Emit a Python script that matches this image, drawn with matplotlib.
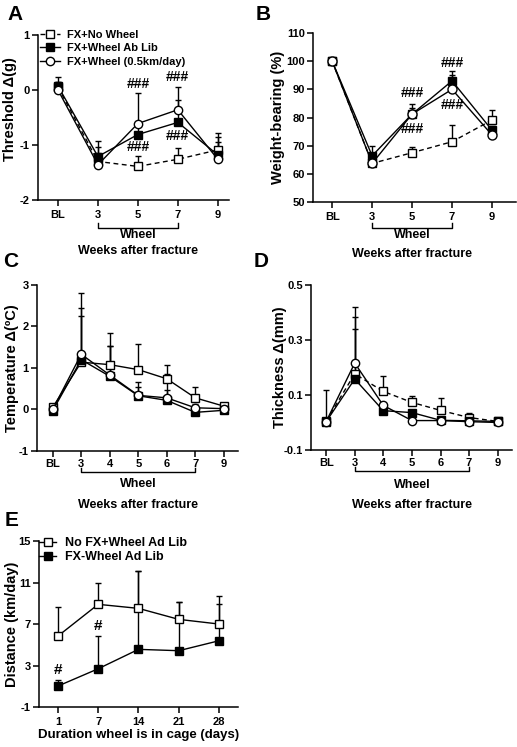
import numpy as np
import matplotlib
matplotlib.use("Agg")
import matplotlib.pyplot as plt

plt.rcParams['font.family'] = ['Liberation Sans', 'DejaVu Sans']
plt.rcParams['font.weight'] = 'bold'
plt.rcParams['axes.labelweight'] = 'bold'
plt.rcParams['axes.unicode_minus'] = False

# ---- data ----
# Panel A: threshold change
a_ticks = ['BL', '3', '5', '7', '9']
a_nowheel = [0.05, -1.30, -1.39, -1.26, -1.09]
a_nowheel_err = [0.10, 0.37, 0.19, 0.20, 0.30]
a_ablib = [0.07, -1.21, -0.81, -0.59, -1.18]
a_ablib_err = [0.17, 0.18, 0.20, 0.40, 0.32]
a_slow = [0.00, -1.36, -0.61, -0.36, -1.26]
a_slow_err = [0.15, 0.21, 0.55, 0.42, 0.32]

# Panel B: weight-bearing
b_ticks = ['BL', '3', '5', '7', '9']
b_nowheel = [100, 63.7, 67.5, 71.4, 79.1]
b_nowheel_err = [0, 1.0, 2.1, 5.9, 3.6]
b_ablib = [100, 66.4, 81.2, 93.0, 75.5]
b_ablib_err = [0, 3.6, 3.6, 3.5, 1.5]
b_slow = [100, 63.7, 81.2, 90.0, 73.8]
b_slow_err = [0, 1.0, 2.2, 5.1, 1.0]

# Panel C: temperature change
c_ticks = ['BL', '3', '4', '5', '6', '7', '9']
c_nowheel = [0.05, 1.14, 1.08, 0.96, 0.74, 0.28, 0.08]
c_nowheel_err = [0.05, 1.12, 0.76, 0.61, 0.32, 0.27, 0.03]
c_ablib = [-0.03, 1.20, 0.80, 0.33, 0.22, -0.07, -0.02]
c_ablib_err = [0.05, 1.25, 0.74, 0.21, 0.24, 0.10, 0.05]
c_slow = [0.00, 1.33, 0.83, 0.34, 0.28, 0.04, 0.02]
c_slow_err = [0.04, 1.48, 0.70, 0.32, 0.58, 0.08, 0.04]

# Panel D: thickness change
d_ticks = ['BL', '3', '4', '5', '6', '7', '9']
d_nowheel = [0.005, 0.177, 0.113, 0.073, 0.044, 0.018, 0.004]
d_nowheel_err = [0.114, 0.163, 0.057, 0.024, 0.045, 0.015, 0.004]
d_ablib = [0.003, 0.158, 0.043, 0.036, 0.008, 0.006, 0.004]
d_ablib_err = [0.0, 0.227, 0.010, 0.010, 0.005, 0.010, 0.003]
d_slow = [0.003, 0.216, 0.062, 0.007, 0.007, 0.003, 0.000]
d_slow_err = [0.0, 0.204, 0.010, 0.005, 0.005, 0.005, 0.003]

# Panel E: running distance
e_ticks = ['1', '7', '14', '21', '28']
e_nofx = [5.84, 8.90, 8.51, 7.45, 7.00]
e_nofx_err = [2.83, 2.02, 3.59, 1.64, 2.73]
e_fx = [1.02, 2.69, 4.56, 4.43, 5.39]
e_fx_err = [0.58, 3.18, 7.54, 4.66, 3.51]

legend_a = ['FX+No Wheel', 'FX+Wheel Ab Lib', 'FX+Wheel (0.5km/day)']
legend_e = ['No FX+Wheel Ad Lib', 'FX-Wheel Ad Lib']

DASH = (0, (3.5, 2.5))


def plot_group(ax, y, err, marker, face, ls, ms=5.5, label=None):
    x = np.arange(len(y))
    eb = ax.errorbar(x, y, yerr=[np.zeros(len(err)), err], fmt='none',
                     ecolor='black', elinewidth=1, capsize=2.5, capthick=1,
                     zorder=2)
    for art in list(eb[1]) + list(eb[2]):
        art.set_clip_on(False)
    ax.plot(x, y, linestyle=ls, color='black', lw=1, marker=marker,
            mfc=face, mec='black', ms=ms, mew=1, zorder=3, clip_on=False,
            label=label)


def style_axes(ax, ticks, ylim, yticks, xlim, pad=3):
    ax.set_xticks(np.arange(len(ticks)))
    ax.set_xticklabels(ticks)
    ax.set_xlim(*xlim)
    ax.set_ylim(*ylim)
    ax.set_yticks(yticks)
    ax.spines['top'].set_visible(False)
    ax.spines['right'].set_visible(False)
    ax.spines['left'].set_linewidth(1.1)
    ax.spines['bottom'].set_linewidth(1.1)
    ax.tick_params(direction='out', length=4, width=1.1, labelsize=8)
    ax.tick_params(axis='x', pad=pad)
    ax.tick_params(axis='y', pad=2)
    for lab in ax.get_xticklabels() + ax.get_yticklabels():
        lab.set_fontweight('bold')


def wheel_bracket(ax, x0, x1, ybr, ytick, ywheel, yweeks):
    tr = ax.get_xaxis_transform()
    ax.plot([x0, x0, x1, x1], [ytick, ybr, ybr, ytick], transform=tr,
            color='black', lw=1, clip_on=False)
    ax.text((x0 + x1) / 2, ywheel, 'Wheel', transform=tr, ha='center',
            va='center', fontsize=9, fontweight='bold')
    ax.text((x0 + x1) / 2, yweeks, 'Weeks after fracture', transform=tr,
            ha='center', va='center', fontsize=9, fontweight='bold')


fig = plt.figure(figsize=(5.17, 7.47), dpi=100)

# ---- A ----
axA = fig.add_axes([0.0735, 0.7323, 0.3694, 0.2209])
plot_group(axA, a_nowheel, a_nowheel_err, 's', 'white', DASH, label=legend_a[0])
plot_group(axA, a_ablib, a_ablib_err, 's', 'black', '-', label=legend_a[1])
plot_group(axA, a_slow, a_slow_err, 'o', 'white', '-', ms=6, label=legend_a[2])
style_axes(axA, a_ticks, (-2, 1), [-2, -1, 0, 1], (-0.5, 4.28))
axA.set_ylabel('Threshold Δ(g)', fontsize=10.5)
axA.yaxis.set_label_coords(-0.11, 0.55)
for xx, yy in [(2, 0.10), (2, -1.03), (3, 0.24), (3, -0.84)]:
    axA.text(xx, yy, '###', ha='center', va='center', fontsize=10)
axA.legend(loc='upper left', bbox_to_anchor=(0.01, 1.03), frameon=False,
           fontsize=8, handlelength=1.8, handletextpad=0.6,
           labelspacing=0.3, borderpad=0, borderaxespad=0)
wheel_bracket(axA, 1, 3, -0.17, -0.14, -0.212, -0.31)

# ---- B ----
axB = fig.add_axes([0.6054, 0.7296, 0.3926, 0.2262])
plot_group(axB, b_nowheel, b_nowheel_err, 's', 'white', DASH)
plot_group(axB, b_ablib, b_ablib_err, 's', 'black', '-')
plot_group(axB, b_slow, b_slow_err, 'o', 'white', '-', ms=6.5)
style_axes(axB, b_ticks, (50, 110), range(50, 111, 10), (-0.48, 4.6))
axB.set_ylabel('Weight-bearing (%)', fontsize=10.5)
axB.yaxis.set_label_coords(-0.14, 0.5)
for xx, yy in [(2, 88.6), (2, 75.8), (3, 99.5), (3, 84.3)]:
    axB.text(xx, yy, '###', ha='center', va='center', fontsize=10)
wheel_bracket(axB, 1, 3, -0.156, -0.126, -0.195, -0.308)

# ---- C ----
axC = fig.add_axes([0.0716, 0.3963, 0.3888, 0.2222])
plot_group(axC, c_nowheel, c_nowheel_err, 's', 'white', '-')
plot_group(axC, c_ablib, c_ablib_err, 's', 'black', '-')
plot_group(axC, c_slow, c_slow_err, 'o', 'white', '-', ms=6)
style_axes(axC, c_ticks, (-1, 3), [-1, 0, 1, 2, 3], (-0.55, 6.5), pad=1.5)
axC.set_ylabel('Temperature Δ(ºC)', fontsize=10.5)
axC.yaxis.set_label_coords(-0.09, 0.5)
wheel_bracket(axC, 1, 5, -0.125, -0.1, -0.2, -0.325)

# ---- D ----
axD = fig.add_axes([0.6015, 0.3976, 0.3888, 0.2209])
plot_group(axD, d_nowheel, d_nowheel_err, 's', 'white', DASH)
plot_group(axD, d_ablib, d_ablib_err, 's', 'black', '-')
plot_group(axD, d_slow, d_slow_err, 'o', 'white', '-', ms=6)
style_axes(axD, d_ticks, (-0.1, 0.5), [-0.1, 0.1, 0.3, 0.5], (-0.53, 6.5), pad=1.5)
axD.set_ylabel('Thickness Δ(mm)', fontsize=10.5)
axD.yaxis.set_label_coords(-0.119, 0.5)
wheel_bracket(axD, 1, 5, -0.126, -0.101, -0.21, -0.333)

# ---- E ----
axE = fig.add_axes([0.0754, 0.0535, 0.3849, 0.2222])
plot_group(axE, e_nofx, e_nofx_err, 's', 'white', '-', ms=6, label=legend_e[0])
plot_group(axE, e_fx, e_fx_err, 's', 'black', '-', ms=6, label=legend_e[1])
style_axes(axE, e_ticks, (-1, 15), [-1, 3, 7, 11, 15], (-0.47, 4.47))
axE.set_ylabel('Distance (km/day)', fontsize=10.5)
axE.yaxis.set_label_coords(-0.10, 0.5)
axE.set_xlabel('Duration wheel is in cage (days)', fontsize=9.5)
axE.xaxis.set_label_coords(0.5, -0.135)
axE.text(0, 2.57, '#', ha='center', va='center', fontsize=11)
axE.text(1, 6.84, '#', ha='center', va='center', fontsize=11)
axE.legend(loc='upper left', bbox_to_anchor=(0.0, 1.025), frameon=False,
           fontsize=9, handlelength=1.4, handletextpad=0.7,
           labelspacing=0.2, borderpad=0, borderaxespad=0)

# panel letters
for letter, (px, py) in {'A': (15, 14), 'B': (263, 14), 'C': (11, 262),
                         'D': (261, 262), 'E': (12, 520)}.items():
    fig.text(px / 517, 1 - py / 747, letter, fontsize=15, fontweight='bold',
             ha='center', va='center')

fig.savefig('out.png', dpi=100)
